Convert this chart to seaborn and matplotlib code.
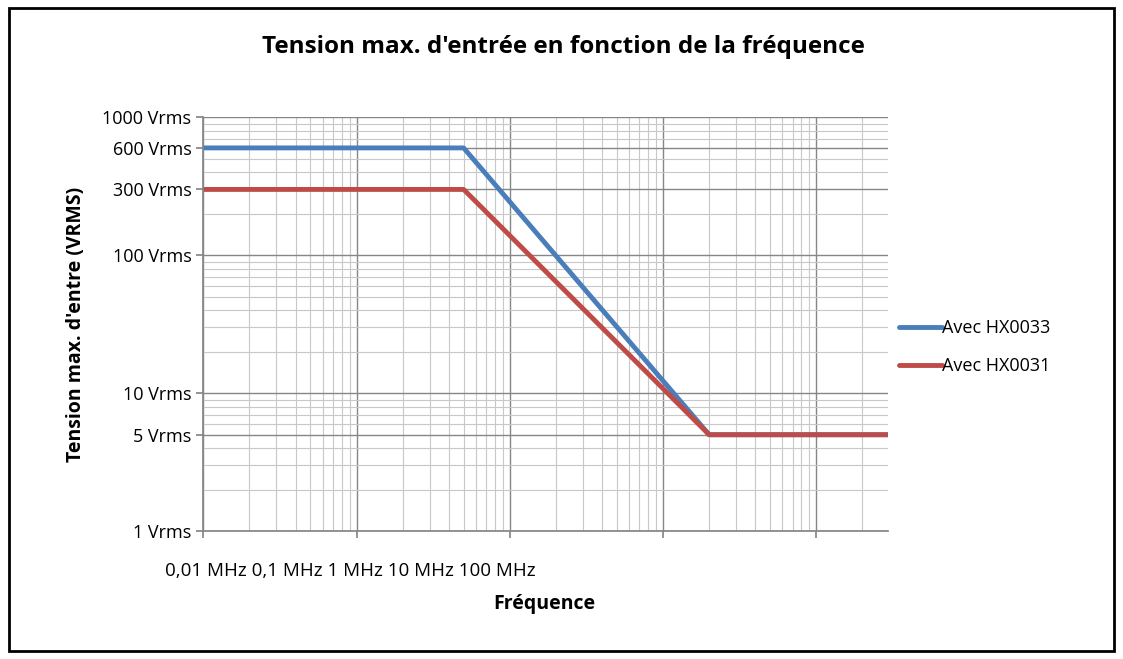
import matplotlib
matplotlib.use("Agg")
import matplotlib.pyplot as plt
import seaborn as sns
import pandas as pd
from matplotlib.ticker import LogLocator, NullFormatter, FixedLocator, FixedFormatter
from matplotlib.patches import Rectangle

freq_hx33 = [0.01, 0.5, 20, 295]
volt_hx33 = [600, 600, 5, 5]
freq_hx31 = [0.01, 0.5, 20, 295]
volt_hx31 = [300, 300, 5, 5]
ytick_vals = [1, 5, 10, 100, 300, 600, 1000]
ytick_labels = ["1 Vrms", "5 Vrms", "10 Vrms", "100 Vrms", "300 Vrms", "600 Vrms", "1000 Vrms"]
xlabels_text = "0,01 MHz 0,1 MHz 1 MHz 10 MHz 100 MHz"

df = pd.concat([
    pd.DataFrame({"f": freq_hx33, "v": volt_hx33, "s": "Avec HX0033"}),
    pd.DataFrame({"f": freq_hx31, "v": volt_hx31, "s": "Avec HX0031"}),
])

sns.set_theme(style="white")
plt.rcParams['font.family'] = ['Open Sans', 'DejaVu Sans']
plt.rcParams['text.color'] = 'black'
fig = plt.figure(figsize=(11.23, 6.59), dpi=100)
ax = fig.add_axes([0.181, 0.194, 0.61, 0.628])
sns.lineplot(data=df, x="f", y="v", hue="s", palette=["#4a7ebb", "#be4b48"], linewidth=3.5, ax=ax, sort=False)
ax.set_xscale("log"); ax.set_yscale("log")
ax.set_xlim(0.01, 295); ax.set_ylim(1, 1000)
ax.xaxis.set_major_locator(LogLocator(base=10, numticks=20))
ax.xaxis.set_minor_locator(LogLocator(base=10, subs=range(2, 10), numticks=50))
ax.xaxis.set_major_formatter(NullFormatter()); ax.xaxis.set_minor_formatter(NullFormatter())
ax.yaxis.set_minor_locator(LogLocator(base=10, subs=range(2, 10), numticks=50))
ax.yaxis.set_minor_formatter(NullFormatter())
ax.yaxis.set_major_locator(FixedLocator(ytick_vals))
ax.yaxis.set_major_formatter(FixedFormatter(ytick_labels))
ax.grid(True, which="major", color="#868686", linewidth=1.0)
ax.grid(True, which="minor", color="#c8c8c8", linewidth=0.8)
ax.tick_params(axis="y", labelsize=13, labelcolor="black", left=True, length=5, color="#868686")
ax.tick_params(axis="x", bottom=True, length=5, color="#868686")
for s in ["top", "right"]:
    ax.spines[s].set_visible(False)
ax.spines["left"].set_color("#868686"); ax.spines["bottom"].set_color("#868686")
ax.set_xlabel("")
ax.set_ylabel("Tension max. d'entre (VRMS)", fontsize=14, fontweight="bold", color="black", labelpad=12)
fig.text(0.147, 0.133, xlabels_text, fontsize=13.5, va="center", ha="left")
fig.text(0.485, 0.083, "Fréquence", fontsize=14, fontweight="bold", ha="center", va="center")
fig.text(0.502, 0.928, "Tension max. d'entrée en fonction de la fréquence", fontsize=17.5, fontweight="bold", ha="center", va="center")
ax.legend(loc="center left", bbox_to_anchor=(1.0, 0.445), frameon=False, fontsize=13, handlelength=2.4,
          handletextpad=0.0, labelspacing=1.1, borderaxespad=0.2)
fig.add_artist(Rectangle((0.008, 0.012), 0.984, 0.976, transform=fig.transFigure, fill=False, edgecolor="black", linewidth=2))
fig.savefig("out.png", dpi=100)
